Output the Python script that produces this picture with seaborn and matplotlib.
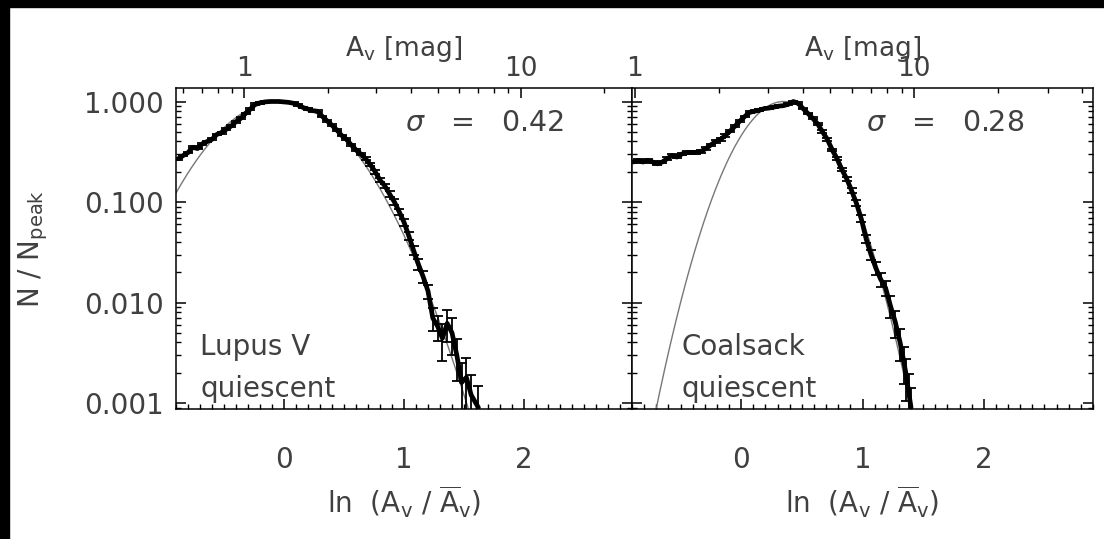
import numpy as np
import matplotlib
matplotlib.use("Agg")
import matplotlib.pyplot as plt
import seaborn as sns
from matplotlib.patches import Rectangle
from matplotlib.ticker import FixedLocator, MultipleLocator, NullFormatter, FixedFormatter

# ---------------- data ----------------
# Lupus V (quiescent): ln(A_V / mean A_V), normalised counts, relative errors
lupus_lnav = [-0.88, -0.84, -0.80, -0.76, -0.72, -0.68, -0.64, -0.60, -0.56, -0.52,
              -0.48, -0.44, -0.40, -0.36, -0.32, -0.28, -0.24, -0.20, -0.16, -0.12,
              -0.08, -0.04, 0.00, 0.04, 0.08, 0.12, 0.16, 0.20, 0.24, 0.28,
              0.32, 0.36, 0.40, 0.44, 0.48, 0.52, 0.56, 0.60, 0.64, 0.68,
              0.72, 0.76, 0.80, 0.84, 0.88, 0.92, 0.96, 1.00, 1.04, 1.08,
              1.12, 1.16, 1.20, 1.24, 1.28, 1.32, 1.36, 1.40, 1.44, 1.48,
              1.52, 1.56, 1.62]
lupus_n = [0.27, 0.29, 0.31, 0.35, 0.34, 0.38, 0.40, 0.42, 0.47, 0.49,
           0.53, 0.57, 0.63, 0.68, 0.76, 0.84, 0.94, 0.97, 0.99, 1.00,
           1.00, 1.00, 0.99, 0.98, 0.96, 0.92, 0.87, 0.84, 0.81, 0.80,
           0.71, 0.64, 0.58, 0.52, 0.46, 0.42, 0.37, 0.33, 0.30, 0.27,
           0.235, 0.20, 0.165, 0.145, 0.12, 0.100, 0.080, 0.063, 0.046, 0.033,
           0.024, 0.018, 0.013, 0.0070, 0.0058, 0.0044, 0.0062, 0.0050, 0.0030, 0.0016,
           0.0018, 0.0012, 0.0009]
lupus_relerr = [0.02, 0.02, 0.02, 0.02, 0.02, 0.02, 0.02, 0.02, 0.02, 0.02,
                0.02, 0.02, 0.02, 0.02, 0.02, 0.02, 0.02, 0.02, 0.02, 0.02,
                0.02, 0.02, 0.02, 0.02, 0.02, 0.02, 0.02, 0.02, 0.02, 0.02,
                0.02, 0.02, 0.02, 0.02, 0.02, 0.02, 0.03, 0.03, 0.03, 0.03,
                0.04, 0.04, 0.05, 0.05, 0.06, 0.06, 0.07, 0.08, 0.09, 0.10,
                0.12, 0.14, 0.16, 0.25, 0.28, 0.40, 0.35, 0.40, 0.45, 0.55,
                0.55, 0.60, 0.65]
lupus_sigma = 0.42
lupus_mu = -0.04
lupus_mean_av = 1.39

# Coalsack (quiescent)
coal_lnav = [-0.89, -0.85, -0.81, -0.77, -0.73, -0.69, -0.65, -0.61, -0.57, -0.53,
             -0.49, -0.45, -0.41, -0.37, -0.33, -0.29, -0.25, -0.21, -0.17, -0.13,
             -0.09, -0.05, -0.01, 0.03, 0.07, 0.11, 0.15, 0.19, 0.23, 0.27,
             0.31, 0.35, 0.39, 0.43, 0.47, 0.51, 0.55, 0.59, 0.63, 0.67,
             0.71, 0.75, 0.79, 0.83, 0.87, 0.91, 0.95, 0.99, 1.03, 1.07,
             1.11, 1.15, 1.19, 1.23, 1.27, 1.31, 1.34, 1.36, 1.38, 1.40]
coal_n = [0.25, 0.26, 0.25, 0.26, 0.25, 0.24, 0.25, 0.27, 0.29, 0.28,
          0.30, 0.31, 0.31, 0.31, 0.32, 0.34, 0.37, 0.40, 0.42, 0.46,
          0.51, 0.57, 0.64, 0.71, 0.78, 0.80, 0.82, 0.85, 0.86, 0.88,
          0.90, 0.91, 0.94, 1.00, 0.96, 0.85, 0.76, 0.68, 0.60, 0.50,
          0.42, 0.33, 0.27, 0.21, 0.17, 0.13, 0.097, 0.068, 0.043, 0.030,
          0.022, 0.017, 0.014, 0.0093, 0.0064, 0.0040, 0.0026, 0.0019, 0.0013, 0.0009]
coal_relerr = [0.03, 0.03, 0.03, 0.03, 0.03, 0.03, 0.03, 0.03, 0.03, 0.03,
               0.03, 0.03, 0.03, 0.03, 0.03, 0.03, 0.03, 0.03, 0.03, 0.03,
               0.02, 0.02, 0.02, 0.02, 0.02, 0.02, 0.02, 0.02, 0.02, 0.02,
               0.02, 0.02, 0.02, 0.02, 0.02, 0.02, 0.02, 0.02, 0.02, 0.03,
               0.03, 0.03, 0.04, 0.04, 0.05, 0.06, 0.07, 0.08, 0.10, 0.12,
               0.14, 0.16, 0.18, 0.25, 0.30, 0.35, 0.40, 0.45, 0.50, 0.55]
coal_sigma = 0.28
coal_mu = 0.35
coal_mean_av = 2.40

panels = [
    dict(lnav=lupus_lnav, n=lupus_n, relerr=lupus_relerr, sigma=lupus_sigma,
         mu=lupus_mu, mean_av=lupus_mean_av, name="Lupus V\nquiescent", name_x=0.053),
    dict(lnav=coal_lnav, n=coal_n, relerr=coal_relerr, sigma=coal_sigma,
         mu=coal_mu, mean_av=coal_mean_av, name="Coalsack\nquiescent", name_x=0.107),
]

top_av_ticks = [0.5, 0.6, 0.7, 0.8, 0.9, 1, 2, 3, 4, 5, 6, 7, 8, 9, 10, 20, 30, 40, 50]
top_av_major = [1, 10]

# ---------------- style ----------------
sns.set_theme(style="white")
plt.rcParams['font.family'] = ['DejaVu Sans']
plt.rcParams['mathtext.fontset'] = 'dejavusans'
TXT = '#404040'

XLIM = (-0.9, 2.9)
YLIM = (10 ** (-3 - 6 / 100.5), 10 ** (13.5 / 100.5))

fig = plt.figure(figsize=(11.04, 5.39), dpi=100)
fig.patch.set_facecolor('white')
W, H = 1104, 539
ax_l = fig.add_axes([176 / W, 1 - 409 / H, (632 - 176) / W, (409 - 88) / H])
ax_r = fig.add_axes([632 / W, 1 - 409 / H, (1093 - 632) / W, (409 - 88) / H])

# black frame strips along the top and left edges of the image
fig.patches.append(Rectangle((0, 1 - 7 / H), 1, 7 / H, transform=fig.transFigure,
                             color='black', zorder=10))
fig.patches.append(Rectangle((0, 0), 9 / W, 1, transform=fig.transFigure,
                             color='black', zorder=10))

for i, (ax, p) in enumerate(zip([ax_l, ax_r], panels)):
    x = np.array(p['lnav'])
    y = np.array(p['n'])
    e = np.array(p['relerr']) * y

    # lognormal fit (Gaussian in ln A_V) with the quoted width
    xf = np.linspace(XLIM[0], XLIM[1], 600)
    yf = np.exp(-(xf - p['mu']) ** 2 / (2 * p['sigma'] ** 2))
    sns.lineplot(x=xf, y=yf, ax=ax, color='#777777', lw=1.0, zorder=1)

    # observed distribution
    ax.errorbar(x, y, yerr=[np.minimum(e, y * 0.95), e], fmt='none', ecolor='black',
                elinewidth=1.3, capsize=3.5, capthick=1.3, zorder=2)
    sns.lineplot(x=x, y=y, ax=ax, color='black', lw=3.4, sort=False,
                 estimator=None, zorder=3)

    ax.set_yscale('log')
    ax.set_xlim(*XLIM)
    ax.set_ylim(*YLIM)
    ax.set_facecolor('white')
    for sp in ax.spines.values():
        sp.set_visible(True)
        sp.set_color('black')
        sp.set_linewidth(1.1)

    ax.xaxis.set_major_locator(FixedLocator([0, 1, 2]))
    ax.xaxis.set_minor_locator(MultipleLocator(0.1))
    ax.yaxis.set_major_locator(FixedLocator([0.001, 0.01, 0.1, 1.0]))
    ax.yaxis.set_minor_locator(FixedLocator(
        [m * 10.0 ** d for d in range(-4, 1) for m in range(2, 10)]))
    ax.yaxis.set_minor_formatter(NullFormatter())
    ax.tick_params(axis='both', which='major', direction='in', length=7, width=1.1,
                   colors='black', labelcolor=TXT, labelsize=20)
    ax.tick_params(axis='both', which='minor', direction='in', length=3.5, width=1.0,
                   colors='black')
    ax.tick_params(axis='x', which='both', top=False, bottom=True, pad=27)
    ax.tick_params(axis='y', which='both', left=True, right=True, pad=9)
    if i == 0:
        ax.yaxis.set_major_formatter(FixedFormatter(['0.001', '0.010', '0.100', '1.000']))
        ax.set_ylabel(r'N / N$_{\rm peak}$', fontsize=20, color=TXT, labelpad=24)
    else:
        ax.tick_params(axis='y', which='both', labelleft=False)
        ax.set_ylabel('')
    ax.xaxis.set_major_formatter(FixedFormatter(['0', '1', '2']))
    ax.set_xlabel(r'ln  (A$_{\rm v}$ / $\overline{\rm A}_{\rm v}$)', fontsize=20,
                  color=TXT, labelpad=6)

    ax.text(0.85, 0.89, r'$\sigma$   =   ' + f"{p['sigma']:.2f}", transform=ax.transAxes,
            fontsize=20.5, color=TXT, va='center', ha='right')
    ax.text(p['name_x'], 0.02, p['name'], transform=ax.transAxes, fontsize=20,
            color=TXT, va='bottom', ha='left', linespacing=1.6)

    # top axis in A_V [mag]
    top = ax.twiny()
    top.set_xlim(*XLIM)
    av_all = np.array(top_av_ticks, dtype=float)
    pos_all = np.log(av_all / p['mean_av'])
    keep = (pos_all >= XLIM[0]) & (pos_all <= XLIM[1])
    av_major = np.array([a for a in av_all[keep] if a in top_av_major])
    av_minor = np.array([a for a in av_all[keep] if a not in top_av_major])
    top.xaxis.set_major_locator(FixedLocator(np.log(av_major / p['mean_av'])))
    top.xaxis.set_major_formatter(FixedFormatter([f"{a:g}" for a in av_major]))
    top.xaxis.set_minor_locator(FixedLocator(np.log(av_minor / p['mean_av'])))
    top.tick_params(axis='x', which='major', direction='in', length=7, width=1.1,
                    colors='black', labelcolor=TXT, labelsize=19, pad=4)
    top.tick_params(axis='x', which='minor', direction='in', length=3.5, width=1.0,
                    colors='black')
    top.set_xlabel(r'A$_{\rm v}$ [mag]', fontsize=19, color=TXT, labelpad=0)
    top.grid(False)
    for sp in top.spines.values():
        sp.set_visible(False)

fig.savefig('out.png', dpi=100, facecolor='white')
